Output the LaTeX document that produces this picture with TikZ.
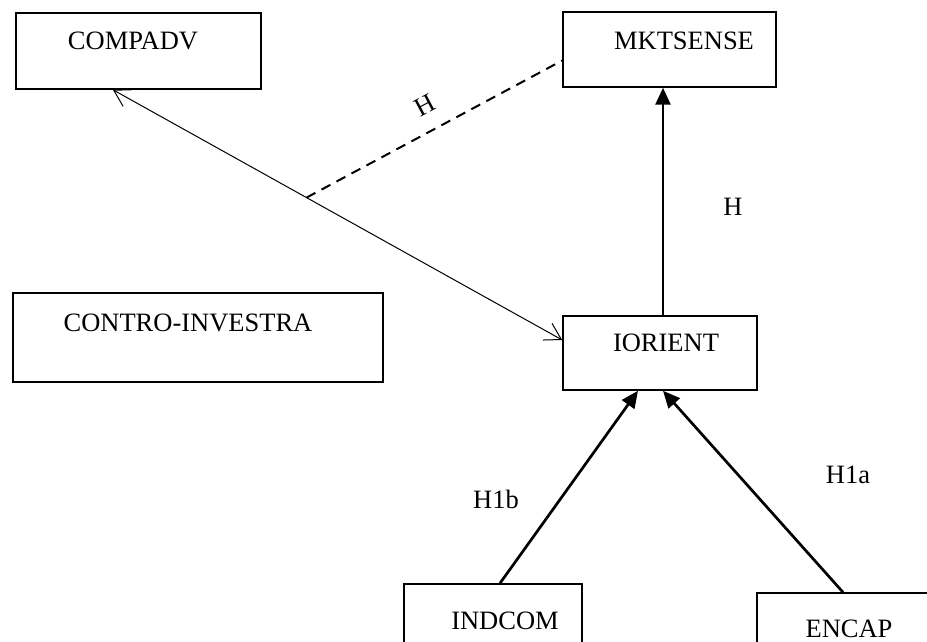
\documentclass[tikz,border=0pt]{standalone}
\usepackage{fontspec}
\setmainfont{Liberation Serif}
\usetikzlibrary{arrows.meta,calc}
\begin{document}
\begin{tikzpicture}[x=1pt,y=-1pt,
  box/.style={draw,line width=1.5pt,rectangle,inner sep=0pt},
  txt/.style={font=\fontsize{26.5}{31}\selectfont,inner sep=0pt},
  thinarrow/.style={line width=1pt,{Straight Barb[length=16pt,width=19pt]}-{Straight Barb[length=16pt,width=19pt]}},
  thickarrow/.style={line width=2.7pt,-{Triangle[length=17pt,width=15pt]}},
  dashline/.style={line width=2pt,dash pattern=on 10pt off 7pt}]
\useasboundingbox (0,0) rectangle (927,642);
\clip (0,0) rectangle (927,642);
% boxes
\node[box,minimum width=245pt,minimum height=76pt] (compadv) at (138.5,51) {};
\node[box,minimum width=213pt,minimum height=75pt] (mktsense) at (669.5,49.5) {};
\node[box,minimum width=370pt,minimum height=89pt] (contro) at (198,337.5) {};
\node[box,minimum width=194pt,minimum height=74pt] (iorient) at (660,353) {};
\node[box,minimum width=178pt,minimum height=76pt] (indcom) at (493,622) {};
\node[box,minimum width=183pt,minimum height=77pt] (encap) at (848.5,631.5) {};
% box texts
\node[txt] (compadv-t) at (133,41) {COMPADV};
\node[txt] (mktsense-t) at (684,41) {MKTSENSE};
\node[txt] (contro-t) at (188,323) {CONTRO-INVESTRA};
\node[txt] (iorient-t) at (666,343) {IORIENT};
\node[txt] (indcom-t) at (505,621) {INDCOM};
\node[txt] (encap-t) at (849,629) {ENCAP};
% connectors
\coordinate (ca) at ($(compadv.south west)!0.396!(compadv.south east)$);
\coordinate (ia) at ([yshift=13pt]iorient.west);
\draw[thinarrow] (ca) -- (ia);
\coordinate (dstart) at ($(ca)!0.431!(ia)$);
\coordinate (dend) at ([yshift=-11pt]mktsense.west);
\draw[dashline] (dstart) -- (dend);
\draw[thickarrow] ([xshift=3pt]iorient.north) -- ([xshift=-6.5pt]mktsense.south);
\draw[thickarrow] ([xshift=7pt]indcom.north) -- ([xshift=-22pt]iorient.south);
\draw[thickarrow] ([xshift=-5.5pt]encap.north) -- ([xshift=3pt]iorient.south);
% labels
\node[txt,rotate=28] (h1) at (425,105) {H};
\node[txt] (h2) at (733,207) {H};
\node[txt] (h1b) at (496,499) {H1b};
\node[txt] (h1a) at (848,475) {H1a};
\end{tikzpicture}
\end{document}
